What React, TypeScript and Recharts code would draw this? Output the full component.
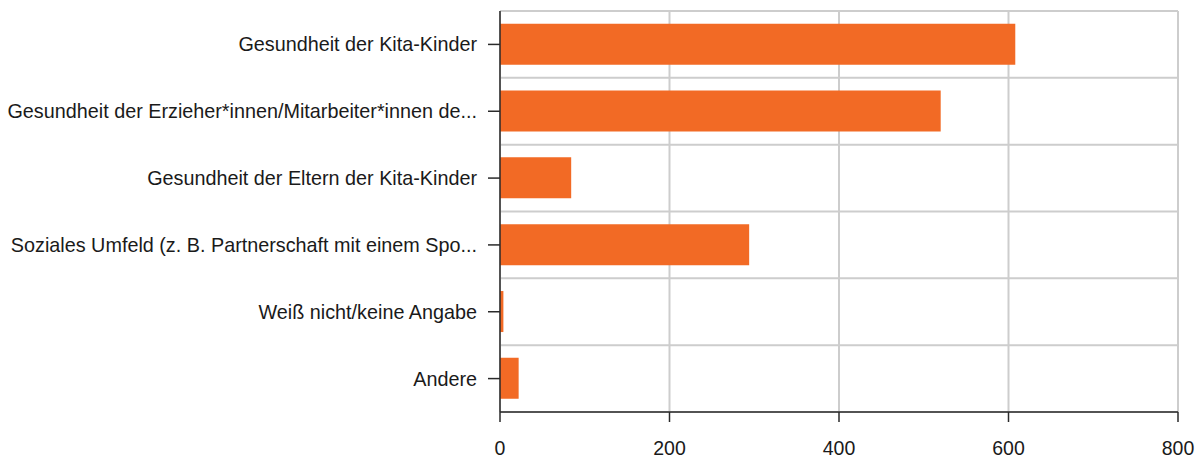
import { BarChart, Bar, XAxis, YAxis, CartesianGrid } from "recharts";

const CATEGORIES = [
  "Gesundheit der Kita-Kinder",
  "Gesundheit der Erzieher*innen/Mitarbeiter*innen de...",
  "Gesundheit der Eltern der Kita-Kinder",
  "Soziales Umfeld (z. B. Partnerschaft mit einem Spo...",
  "Weiß nicht/keine Angabe",
  "Andere",
];
const COUNTS = [608, 520, 84, 294, 4, 22];
const X_TICKS = [0, 200, 400, 600, 800];

const data = CATEGORIES.map((name, i) => ({ name, count: COUNTS[i] }));

const FONT = "'Liberation Sans', Arial, Helvetica, sans-serif";
const AXIS = "#2a2a2a";

// grid lines sit on the band edges, not on the tick centres
const bandEdges = ({ offset }: any) => {
  const step = offset.height / CATEGORIES.length;
  return Array.from({ length: CATEGORIES.length + 1 }, (_, i) => offset.top + i * step);
};

export default function App() {
  return (
    <div style={{ position: "absolute", left: 0, top: 0, width: 1201, height: 460, background: "#fff", fontFamily: FONT }}>
      <BarChart width={1201} height={460} data={data} layout="vertical" barCategoryGap="19%"
        margin={{ top: 11, right: 23, left: 0, bottom: 0 }}>
        <CartesianGrid stroke="#cdcdcd" strokeWidth={2} horizontalCoordinatesGenerator={bandEdges} />
        <XAxis type="number" domain={[0, 800]} ticks={X_TICKS} height={48} tickSize={10} tickMargin={19}
          stroke={AXIS} strokeWidth={1.5} tick={{ fill: "#1a1a1a", fontSize: 19.5, fontFamily: FONT }} />
        <YAxis type="category" dataKey="name" width={500} tickSize={12} tickMargin={11}
          stroke={AXIS} strokeWidth={1.5} interval={0} tick={{ fill: "#1a1a1a", fontSize: 19.8, fontFamily: FONT }} />
        <Bar dataKey="count" fill="#f26a25" isAnimationActive={false} />
      </BarChart>
    </div>
  );
}
